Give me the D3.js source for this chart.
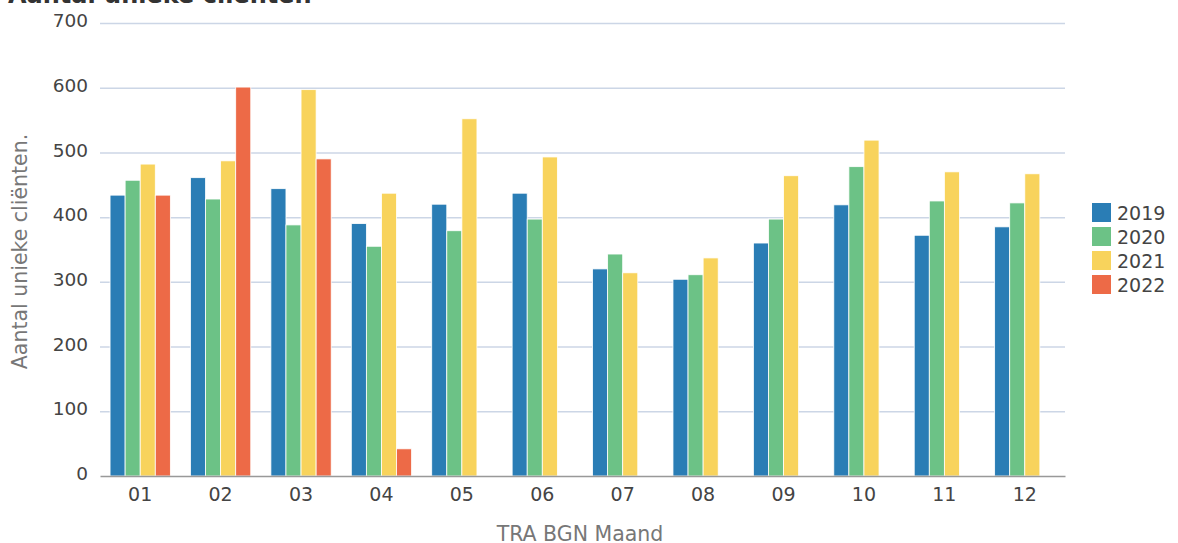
<!DOCTYPE html>
<html><head><meta charset="utf-8">
<script src="https://cdn.jsdelivr.net/npm/d3@7"></script>
<style>body{margin:0;background:#fff;font-family:"DejaVu Sans",sans-serif;}</style>
</head><body><svg id="c" width="1178" height="543"></svg>
<script>
const months = ["01","02","03","04","05","06","07","08","09","10","11","12"];
const years = ["2019","2020","2021","2022"];
const colors = ["#2a7db5","#6cc286","#f8d35c","#ed6a47"];
const v2019 = [434,461,444,390,420,437,320,304,360,419,372,385];
const v2020 = [457,428,388,355,379,397,343,311,397,478,425,422];
const v2021 = [482,487,597,437,552,493,314,337,464,519,470,467];
const v2022 = [434,601,490,42,null,null,null,null,null,null,null,null];
const yTicks = [0,100,200,300,400,500,600,700];
const series = [v2019,v2020,v2021,v2022];

(function(){
const svg = d3.select("#c");
const pL = 100, pR = 1065, pT = 23, pB = 476;
const x = d3.scaleBand().domain(months).range([pL,pR]).paddingInner(0.25).paddingOuter(0.125);
const xo = d3.scaleBand().domain(years).range([0,x.bandwidth()]);
const y = d3.scaleLinear().domain([0,700]).range([pB,pT]);

// grid
svg.append("g").selectAll("line").data(yTicks.filter(d=>d>0)).join("line")
  .attr("x1",pL).attr("x2",pR).attr("y1",d=>y(d)+0.5).attr("y2",d=>y(d)+0.5)
  .attr("stroke","#ccd6e6").attr("stroke-width",1.5);

// y labels
const ya = svg.append("g").attr("transform",`translate(${pL},0)`)
  .call(d3.axisLeft(y).tickValues(yTicks).tickSize(0).tickPadding(12));
ya.select(".domain").remove();
ya.selectAll("text").attr("font-size",18.5).attr("fill","#444").attr("font-family","DejaVu Sans").attr("dy","0.2em");

// bars
const g = svg.append("g");
series.forEach((s,i)=>{
  g.append("g").selectAll("rect").data(months.map((m,j)=>({m,v:s[j]})).filter(d=>d.v!=null)).join("rect")
    .attr("x",d=>x(d.m)+xo(years[i])).attr("width",xo.bandwidth())
    .attr("y",d=>y(d.v)).attr("height",d=>pB-y(d.v))
    .attr("fill",colors[i]).attr("stroke","#fff").attr("stroke-width",0.8);
});

// x axis
const xa = svg.append("g").attr("transform",`translate(0,${pB})`)
  .call(d3.axisBottom(x).tickSize(0).tickPadding(12));
xa.select(".domain").attr("stroke","#999").attr("stroke-width",1.5);
xa.selectAll("text").attr("font-size",19).attr("fill","#444").attr("font-family","DejaVu Sans");

// titles
svg.append("text").attr("x",8).attr("y",3).attr("font-size",24).attr("font-weight","bold")
  .attr("fill","#333").text("Aantal unieke cliënten");
svg.append("text").attr("transform",`translate(27,${(pT+pB)/2 + 2}) rotate(-90)`)
  .attr("text-anchor","middle").attr("font-size",20.5).attr("fill","#777").text("Aantal unieke cliënten.");
svg.append("text").attr("x",580).attr("y",541).attr("text-anchor","middle")
  .attr("font-size",20.5).attr("fill","#777").text("TRA BGN Maand");

// legend
const lg = svg.append("g").attr("transform","translate(1092,203)");
years.forEach((yr,i)=>{
  const r = lg.append("g").attr("transform",`translate(0,${i*24})`);
  r.append("rect").attr("width",19).attr("height",19).attr("fill",colors[i]);
  r.append("text").attr("x",25).attr("y",16.5).attr("font-size",19).attr("fill","#444").text(yr);
});
})();
</script></body></html>
